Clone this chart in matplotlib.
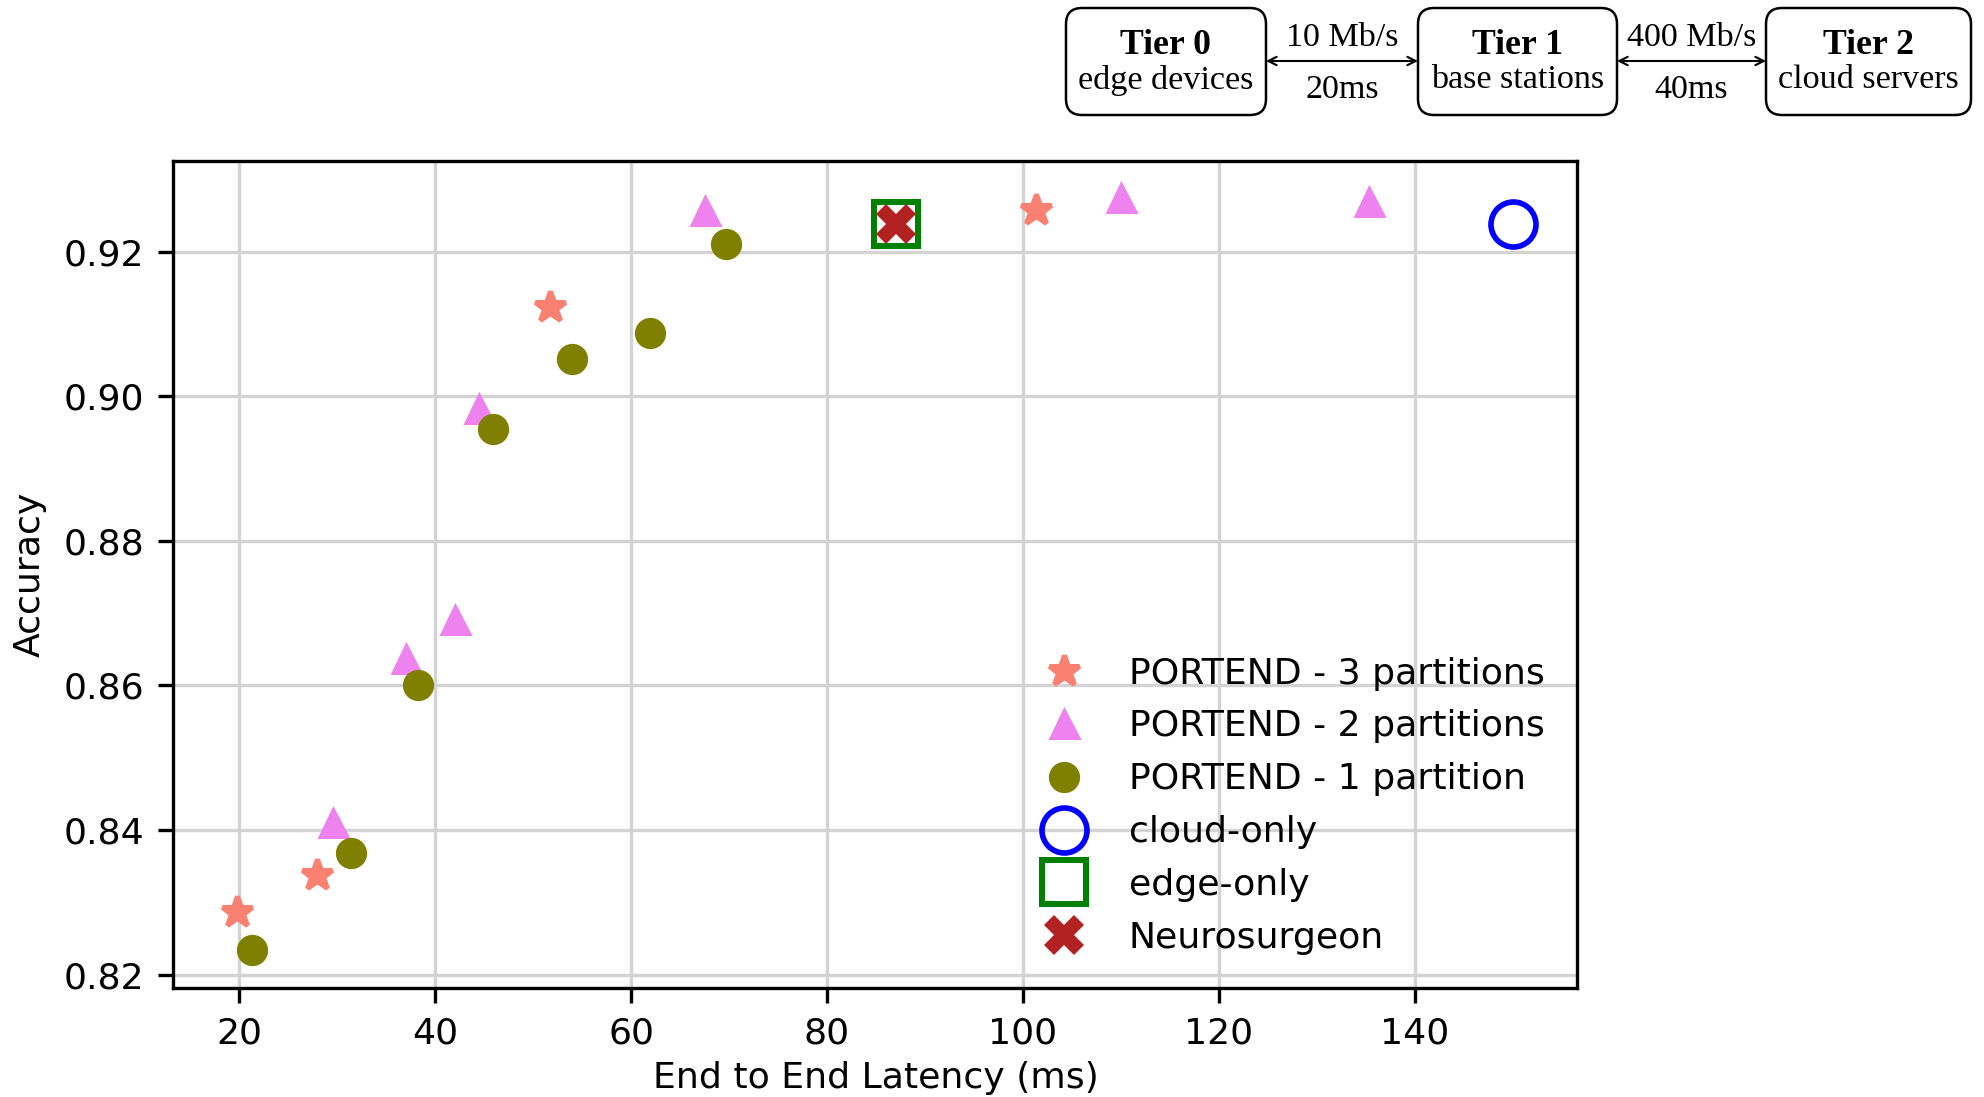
import matplotlib
matplotlib.use('Agg')
import matplotlib.pyplot as plt
from matplotlib.patches import FancyBboxPatch

# latency (ms) / accuracy for each configuration
p3_lat = [19.8, 27.9, 51.7, 101.4]
p3_acc = [0.8287, 0.8337, 0.9123, 0.9257]

p2_lat = [29.6, 37.0, 42.0, 44.5, 67.6, 110.0, 135.4]
p2_acc = [0.8410, 0.8636, 0.8691, 0.8983, 0.9256, 0.9274, 0.9269]

p1_lat = [21.3, 31.4, 38.3, 45.9, 54.0, 61.9, 69.7]
p1_acc = [0.8234, 0.8368, 0.8600, 0.8955, 0.9052, 0.9088, 0.9210]

cloud_lat = [150.1]
cloud_acc = [0.9238]
edge_lat = [87.1]
edge_acc = [0.9238]
neuro_lat = [87.1]
neuro_acc = [0.9238]

# tier diagram text
tiers = ['Tier 0', 'Tier 1', 'Tier 2']
tier_desc = ['edge devices', 'base stations', 'cloud servers']
links_bw = ['10 Mb/s', '400 Mb/s']
links_delay = ['20ms', '40ms']

DPI = 300
plt.rcParams['font.size'] = 8.7
plt.rcParams['font.family'] = 'DejaVu Sans'

fig = plt.figure(figsize=(1985 / DPI, 1097 / DPI), dpi=DPI)
ax = fig.add_axes([0.0874, 0.0998, 0.7072, 0.7538])

ax.grid(True, color='lightgray', linewidth=0.8, zorder=0)
ax.set_axisbelow(True)

ax.plot(p3_lat, p3_acc, linestyle='none', marker='*', ms=7.8, mew=1.2,
        color='salmon', label='PORTEND - 3 partitions')
ax.plot(p2_lat, p2_acc, linestyle='none', marker='^', ms=6.0, mew=1.2,
        color='violet', label='PORTEND - 2 partitions')
ax.plot(p1_lat, p1_acc, linestyle='none', marker='o', ms=6.3, mew=1.2,
        color='olive', label='PORTEND - 1 partition')
ax.plot(cloud_lat, cloud_acc, linestyle='none', marker='o', ms=10.8, mew=1.35,
        mfc='none', mec='blue', label='cloud-only')
ax.plot(edge_lat, edge_acc, linestyle='none', marker='s', ms=10.6, mew=1.45,
        mfc='none', mec='green', label='edge-only')
ax.plot(neuro_lat, neuro_acc, linestyle='none', marker='X', ms=9.6, mew=0,
        color='firebrick', label='Neurosurgeon')

ax.set_xlabel('End to End Latency (ms)', labelpad=2.5)
ax.set_ylabel('Accuracy')
ax.legend(loc='lower right', frameon=False, labelspacing=0.52)

# network tier diagram, drawn in pixel coordinates over the whole figure
over = fig.add_axes([0, 0, 1, 1])
over.set_xlim(0, 1985)
over.set_ylim(1097, 0)
over.axis('off')

box_x = [(1066, 1266), (1418, 1617), (1766, 1971)]
box_top, box_bot = 8, 115
for (x0, x1), name, desc in zip(box_x, tiers, tier_desc):
    over.add_patch(FancyBboxPatch((x0, box_top), x1 - x0, box_bot - box_top,
                                  boxstyle='round,pad=0,rounding_size=16',
                                  fc='white', ec='black', lw=0.6))
    cx = (x0 + x1) / 2
    over.text(cx, 45, name, ha='center', va='center', family='Liberation Serif',
              fontweight='bold', fontsize=8.6)
    over.text(cx, 80, desc, ha='center', va='center', family='Liberation Serif',
              fontsize=8.2)

for i in range(2):
    a = box_x[i][1]
    b = box_x[i + 1][0]
    over.annotate('', xy=(b, 61), xytext=(a, 61),
                  arrowprops=dict(arrowstyle='<->', lw=0.5, color='black',
                                  shrinkA=0, shrinkB=0, mutation_scale=5))
    cx = (a + b) / 2
    over.text(cx, 38, links_bw[i], ha='center', va='center',
              family='Liberation Serif', fontsize=8.2)
    over.text(cx, 90, links_delay[i], ha='center', va='center',
              family='Liberation Serif', fontsize=8.2)

fig.savefig('out.png', dpi=DPI)
